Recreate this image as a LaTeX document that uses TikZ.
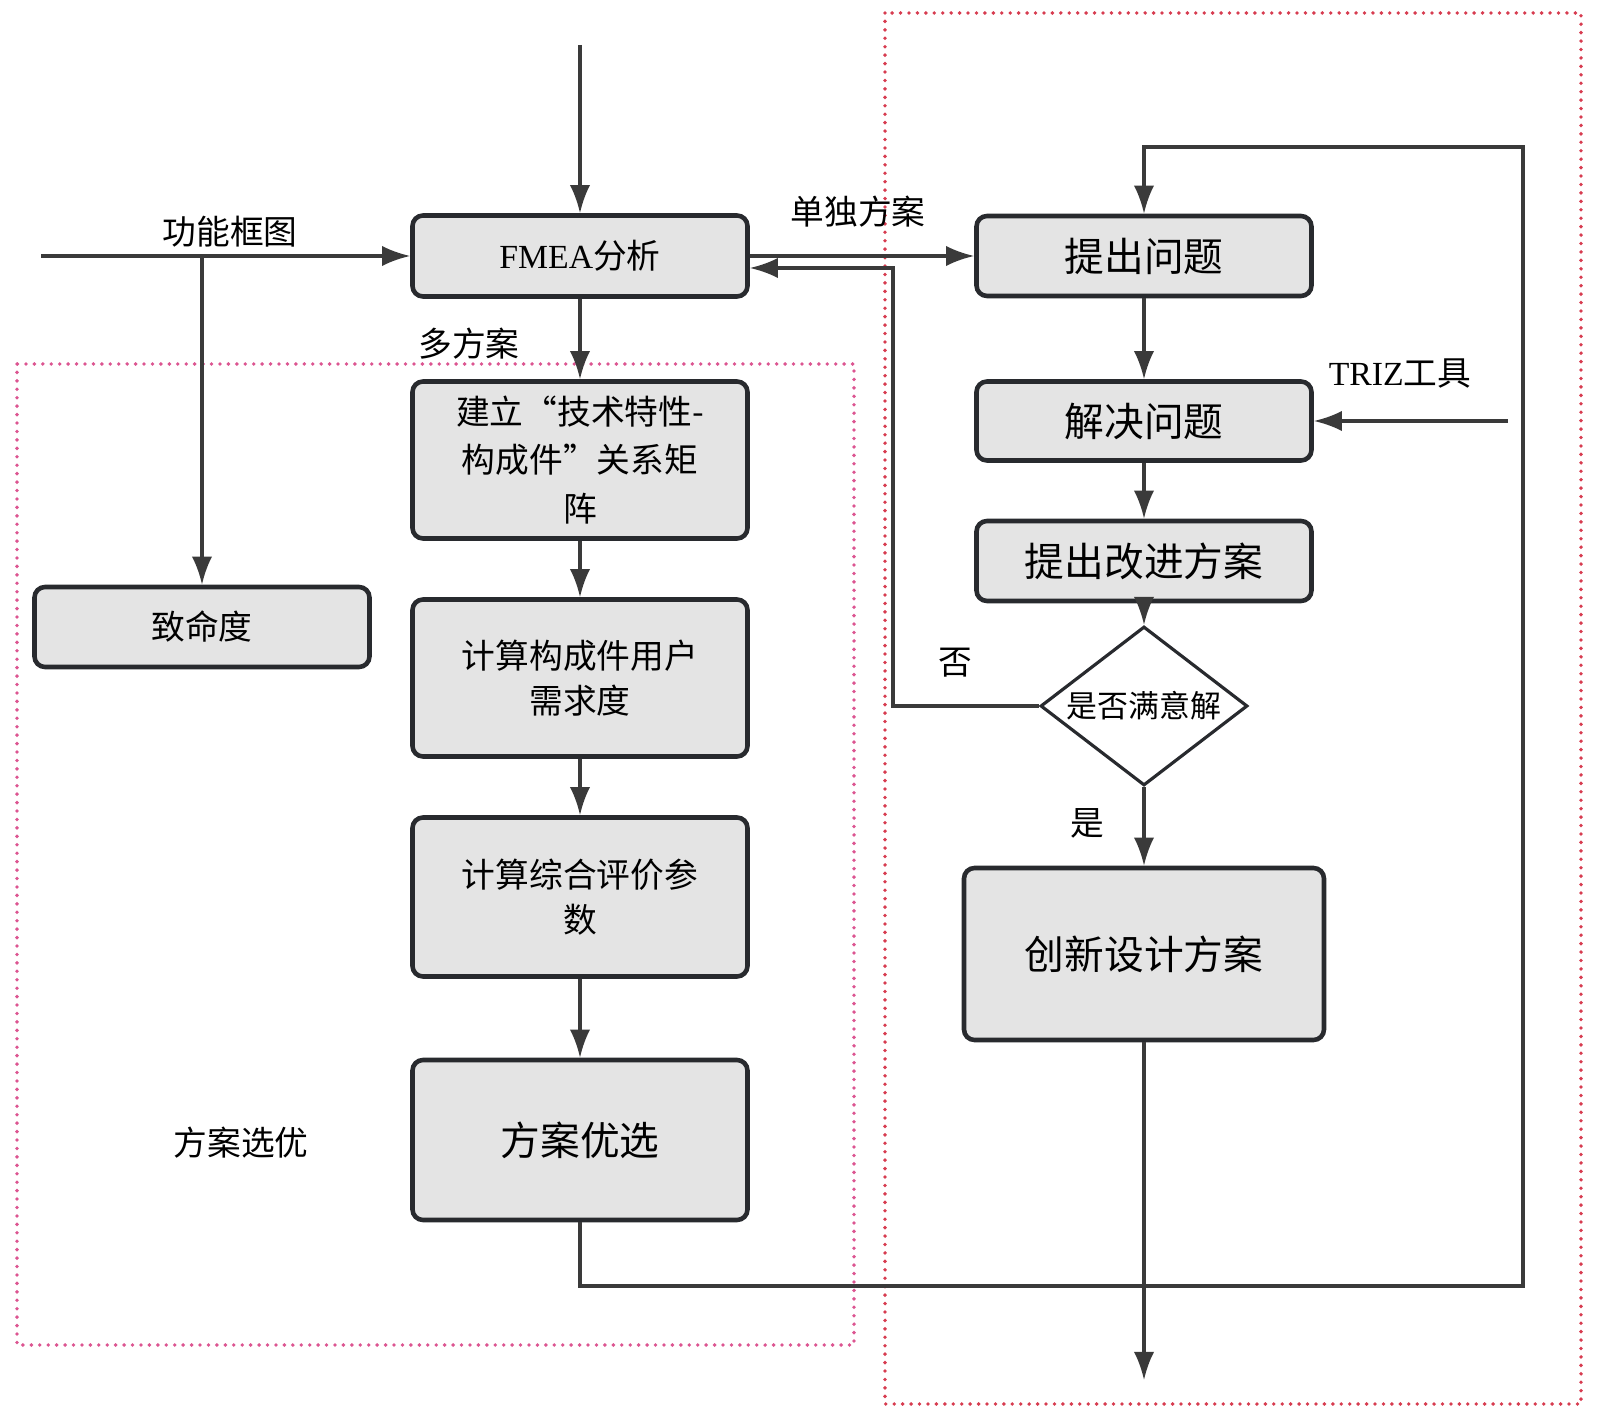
\documentclass[tikz,border=0pt]{standalone}
\usepackage{fontspec}
\setmainfont{Liberation Serif}
\newfontfamily\cjk{Noto Sans CJK SC}
\usepackage{tikz}
\usetikzlibrary{arrows.meta}
\usetikzlibrary{shapes.geometric}

\definecolor{boxfill}{RGB}{228,228,228}
\definecolor{boxline}{RGB}{40,42,46}
\definecolor{wire}{RGB}{58,58,58}
\definecolor{dotpink}{RGB}{220,85,145}
\definecolor{dotred}{RGB}{215,60,80}

\begin{document}
\begin{tikzpicture}[
  box/.style={draw=boxline, line width=1.3pt, fill=boxfill, rounded corners=3pt,
    minimum width=3.35cm, align=center, inner sep=0pt,
    font=\cjk\fontsize{9.6pt}{12.8pt}\selectfont},
  bigbox/.style={box, font=\cjk\fontsize{11.3pt}{14pt}\selectfont},
  choice/.style={diamond, draw=boxline, line width=0.9pt, fill=white, aspect=1.3,
    inner sep=0pt, minimum width=2.07cm, minimum height=1.59cm,
    font=\cjk\fontsize{8.8pt}{10pt}\selectfont},
  lbl/.style={inner sep=0pt, font=\cjk\fontsize{9.6pt}{12pt}\selectfont},
  arr/.style={draw=wire, line width=0.9pt, -{Latex[length=8pt,width=5.8pt]}},
  frame/.style={line width=1.1pt, line cap=round, dash pattern=on 0pt off 2.4pt}
]
\useasboundingbox (0,0) rectangle (16.02,14.17);

% dotted frames
\draw[frame, dotpink] (0.17,10.53) rectangle (8.54,0.72);
\draw[frame, dotred] (8.85,14.04) rectangle (15.81,0.13);

% left column
\path (5.80,11.61) node[box, minimum height=0.81cm] (b1) {{\rmfamily FMEA}分析};
\path (5.80,9.57) node[box, minimum height=1.57cm,
  font=\cjk\fontsize{9.6pt}{13.9pt}\selectfont] (b2) {建立“技术特性-\\构成件”关系矩\\阵};
\path (5.80,7.39) node[box, minimum height=1.57cm] (b3) {计算构成件用户\\需求度};
\path (5.80,5.20) node[box, minimum height=1.59cm] (b4) {计算综合评价参\\数};
\path (5.80,2.77) node[bigbox, minimum height=1.60cm] (b5) {方案优选};
\path (2.02,7.90) node[box, minimum height=0.80cm] (b6) {致命度};

% right column
\path (11.44,11.61) node[bigbox, minimum height=0.80cm] (b7) {提出问题};
\path (11.44,9.96) node[bigbox, minimum height=0.79cm] (b8) {解决问题};
\path (11.44,8.56) node[bigbox, minimum height=0.80cm] (b9) {提出改进方案};
\path (11.44,7.11) node[choice] (b10) {是否满意解};
\path (11.44,4.63) node[bigbox, minimum width=3.60cm, minimum height=1.72cm] (b11) {创新设计方案};

% labels
\path (2.30,11.85) node[lbl] (t1) {功能框图};
\path (4.69,10.73) node[lbl] (t2) {多方案};
\path (8.58,12.05) node[lbl] (t3) {单独方案};
\path (14.00,10.43) node[lbl] (t4) {{\rmfamily TRIZ}工具};
\path (9.55,7.54) node[lbl] (t5) {否};
\path (10.87,5.94) node[lbl] (t6) {是};
\path (2.41,2.74) node[lbl] (t7) {方案选优};

% free ends and bends
\coordinate (p1) at (5.80,13.72);
\coordinate (p2) at (0.41,11.61);
\coordinate (p3) at (15.08,9.96);
\coordinate (p4) at (11.44,0.37);
\coordinate (p5) at (8.93,7.11);
\coordinate (p6) at (15.23,1.31);
\coordinate (p7) at (15.23,12.70);

\draw[arr] (p1) to (b1);
\draw[arr] (p2) to (b1);
\draw[arr] (b6 |- b1) to (b6);
\draw[arr] (b1) to (b2);
\draw[arr] (b2) to (b3);
\draw[arr] (b3) to (b4);
\draw[arr] (b4) to (b5);
\draw[arr] (b1) to (b7);
\draw[arr] (b7) to (b8);
\draw[arr] (b8) to (b9);
\draw[arr] (b9) to (b10);
\draw[arr] (b10) to (b11);
\draw[arr] (p3) to (b8);
\draw[arr] (b11) to (p4);
\draw[arr] (b10.west) -- (p5) |- ([yshift=-1.2mm]b1.east);
\draw[arr] (b5.south) |- (p6) -- (p7) -| (b7.north);

\end{tikzpicture}
\end{document}
